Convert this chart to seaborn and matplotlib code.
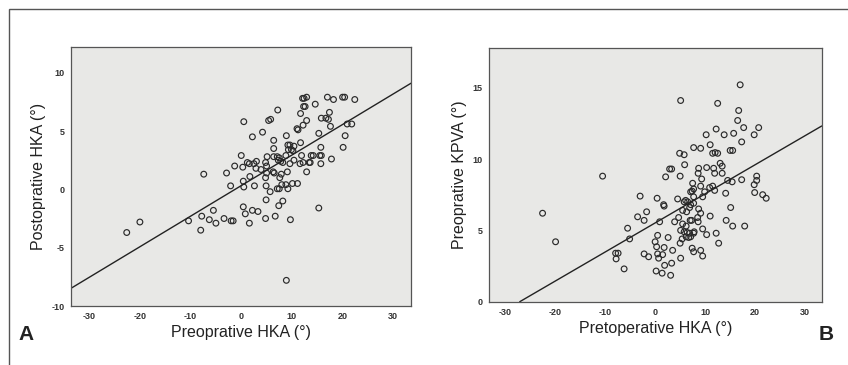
import numpy as np
import pandas as pd
import matplotlib
matplotlib.use("Agg")
import matplotlib.pyplot as plt
import seaborn as sns

# Panel A: preoperative HKA vs postoperative HKA
pre_hka_a = [12.1, 12.4, 12.9, 17.0, 18.2, 20.0, 20.4, 22.4, 14.6, 12.3, 12.6, 7.2, 0.5,
             5.4, 5.8, 11.7, 17.4, 12.9, 15.8, 16.7, 17.2, 12.2, 17.6, 11.0, 11.2, 20.9,
             21.8, 4.2, 2.2, 8.9, 15.3, 20.5, 6.4, 11.7, 9.2, 9.6, 10.4, 6.4, 15.7, 20.1,
             9.3, 9.9, 10.2, 0.0, 11.9, 13.8, 14.2, 15.5, 15.8, 5.1, 6.4, 7.1, 7.5, 8.8,
             3.0, 1.2, 1.6, 2.5, 4.8, 7.3, 7.8, 8.2, 10.4, 9.6, 11.6, 12.2, 13.4, 13.6,
             15.7, 17.8, -1.3, 0.3, 2.9, 5.0, 3.9, 5.0, 6.3, 6.5, 7.9, 9.1, 12.9, -7.4,
             -2.9, 1.7, 4.8, 7.6, 0.4, 0.5, -2.1, 2.6, 4.9, 8.0, 8.8, 10.1, 11.1, 7.1,
             7.5, 9.2, 5.7, 4.9, 8.2, 7.4, 0.4, 2.2, 3.3, -5.5, 15.3, 0.8, -7.8, 6.7,
             -6.3, -3.4, 4.8, -5.0, -2.0, -1.6, -10.4, 1.6, 9.7, -20.0, -22.6, -8.0, 8.9]
post_hka_a = [7.8, 7.8, 7.9, 7.9, 7.7, 7.9, 7.9, 7.7, 7.3, 7.1, 7.1, 6.8, 5.8,
              5.9, 6.0, 6.5, 6.6, 5.9, 6.1, 6.1, 6.0, 5.5, 5.4, 5.2, 5.1, 5.6,
              5.6, 4.9, 4.5, 4.6, 4.8, 4.6, 4.2, 4.0, 3.8, 3.8, 3.7, 3.5, 3.6, 3.6,
              3.4, 3.4, 3.3, 2.9, 2.9, 2.9, 2.9, 2.9, 2.9, 2.8, 2.8, 2.8, 2.7, 2.9,
              2.4, 2.3, 2.2, 2.2, 2.3, 2.5, 2.4, 2.3, 2.5, 2.2, 2.2, 2.3, 2.3, 2.3,
              2.2, 2.6, 2.0, 1.9, 1.8, 2.0, 1.7, 1.4, 1.5, 1.4, 1.3, 1.5, 1.5, 1.3,
              1.4, 1.1, 1.0, 1.0, 0.7, 0.2, 0.3, 0.3, 0.3, 0.4, 0.4, 0.5, 0.5, 0.05,
              0.05, 0.05, -0.2, -0.9, -1.0, -1.4, -1.5, -1.8, -1.9, -1.8, -1.6, -2.1, -2.3, -2.3,
              -2.6, -2.5, -2.5, -2.9, -2.7, -2.7, -2.7, -2.9, -2.6, -2.8, -3.7, -3.5, -7.8]

# Panel B: preoperative HKA vs preoperative KPVA
pre_hka_b = [17.0, 5.1, 12.5, 16.7, 16.5, 17.7, 12.2, 20.7, 10.2, 13.8, 15.7, 19.8, 17.3,
             11.0, 7.7, 9.1, 15.0, 15.5, 11.5, 12.0, 12.5, 4.9, 5.8, 5.9, 13.0, 13.4,
             10.3, 11.7, 2.9, 3.3, 8.7, 8.6, 11.9, 13.4, -10.5, 2.1, 5.0, 9.3, 14.5, 15.4,
             17.3, 20.3, 20.3, 19.8, 7.5, 10.9, 11.5, 9.1, 7.7, 9.9, 11.9, 7.1, 7.4, 14.1,
             19.9, 21.5, 22.2, -3.0, 0.4, 4.5, 6.1, 6.5, 5.8, 9.5, 7.7, 1.7, 1.8, 7.1,
             7.7, 6.9, 15.1, 8.7, 5.5, 9.1, -1.7, 6.3, -22.5, 11.0, -3.5, 4.7, 8.5, -2.2,
             0.9, 3.9, 7.0, 7.3, 8.6, 14.2, 15.5, 17.9, 5.5, 6.2, -5.5, 5.1, 9.5, 5.8,
             6.4, 6.9, 7.7, 7.8, 10.3, 12.2, 0.5, 6.2, 6.7, 7.1, -5.1, 2.6, 5.4, 0.0,
             5.0, -19.9, 12.7, 0.3, 1.8, 7.4, 3.5, 9.1, 7.7, -7.9, -7.4, -7.8, -2.2, -1.3,
             0.5, 1.5, 0.7, 9.5, 5.1, 3.3, 1.9, -6.2, 0.2, 1.4, 3.1]
pre_kpva_b = [15.2, 14.1, 13.9, 13.4, 12.7, 12.2, 12.1, 12.2, 11.7, 11.7, 11.8, 11.7, 11.2,
              11.0, 10.8, 10.75, 10.6, 10.6, 10.4, 10.45, 10.4, 10.4, 10.3, 9.6, 9.7, 9.5,
              9.4, 9.35, 9.3, 9.3, 9.35, 9.0, 9.0, 9.0, 8.8, 8.75, 8.8, 8.6, 8.5, 8.4,
              8.55, 8.8, 8.5, 8.2, 8.3, 8.0, 8.1, 8.1, 7.9, 7.7, 7.8, 7.7, 7.75, 7.6,
              7.65, 7.5, 7.25, 7.4, 7.25, 7.2, 7.1, 7.0, 7.0, 7.35, 7.35, 6.8, 6.7, 6.8,
              6.9, 6.6, 6.6, 6.5, 6.4, 6.2, 6.3, 6.3, 6.2, 6.0, 5.95, 5.9, 5.9, 5.7,
              5.6, 5.6, 5.7, 5.7, 5.6, 5.7, 5.3, 5.3, 5.45, 5.3, 5.15, 5.0, 5.1, 4.9,
              4.85, 4.8, 4.8, 4.9, 4.7, 4.8, 4.65, 4.55, 4.5, 4.55, 4.4, 4.5, 4.4, 4.2,
              4.1, 4.2, 4.1, 3.85, 3.8, 3.75, 3.6, 3.6, 3.5, 3.4, 3.4, 3.0, 3.35, 3.15,
              3.35, 3.3, 3.05, 3.2, 3.05, 2.7, 2.55, 2.3, 2.15, 2.0, 1.85]

# fit lines (slope, intercept)
fit_a = (0.262, 0.32)
fit_b = (0.204, 5.52)

df_a = pd.DataFrame({"x": pre_hka_a, "y": post_hka_a})
df_b = pd.DataFrame({"x": pre_hka_b, "y": pre_kpva_b})

sns.set_style("white")
plt.rcParams["font.family"] = ["Liberation Sans", "DejaVu Sans"]
plt.rcParams["axes.unicode_minus"] = False

fig = plt.figure(figsize=(8.48, 3.65), dpi=100)

# outer frame
frame = plt.Rectangle((9 / 848, -0.2), 1.2, 1.2 - 9 / 365, transform=fig.transFigure,
                      fill=False, edgecolor="#555555", linewidth=1.0)
fig.patches.append(frame)

ax_a = fig.add_axes([0.0837, 0.1616, 0.401, 0.7096])
ax_b = fig.add_axes([0.5767, 0.1734, 0.3923, 0.6959])

panels = [
    (ax_a, df_a, fit_a, (-33.6, 33.5), (-10, 12.2), [-10, -5, 0, 5, 10],
     "Preoprative HKA (°)", "Postoprative HKA (°)"),
    (ax_b, df_b, fit_b, (-33.2, 33.3), (0, 17.8), [0, 5, 10, 15],
     "Pretoperative HKA (°)", "Preoprative KPVA (°)"),
]

for ax, d, fit, xl, yl, yt, xlab, ylab in panels:
    ax.set_facecolor("#e8e8e6")
    sns.scatterplot(data=d, x="x", y="y", ax=ax, s=17, facecolor="none",
                    edgecolor="#2a2a2a", linewidth=0.85, legend=False)
    ax.axline((0, fit[1]), slope=fit[0], color="#222222", linewidth=1.0)
    ax.set_xlim(xl)
    ax.set_ylim(yl)
    ax.set_xticks([-30, -20, -10, 0, 10, 20, 30])
    ax.set_yticks(yt)
    ax.tick_params(axis="both", labelsize=6.5, length=3, width=0.8, color="#444444",
                   labelcolor="#333333", pad=1.5, direction="out")
    for lab in ax.get_xticklabels() + ax.get_yticklabels():
        lab.set_fontweight("bold")
    for sp in ax.spines.values():
        sp.set_color("#555555")
        sp.set_linewidth(0.9)
    ax.set_xlabel(xlab, fontsize=11.5, color="#222222", labelpad=3)
    ax.set_ylabel(ylab, fontsize=11.5, color="#222222", labelpad=4)

fig.text(18 / 848, 1 - 335 / 365, "A", fontsize=15, fontweight="bold", va="center",
         ha="left", color="#222222")
fig.text(834 / 848, 1 - 334 / 365, "B", fontsize=15, fontweight="bold", va="center",
         ha="right", color="#222222")

fig.savefig("out.png", dpi=100, facecolor="white")
